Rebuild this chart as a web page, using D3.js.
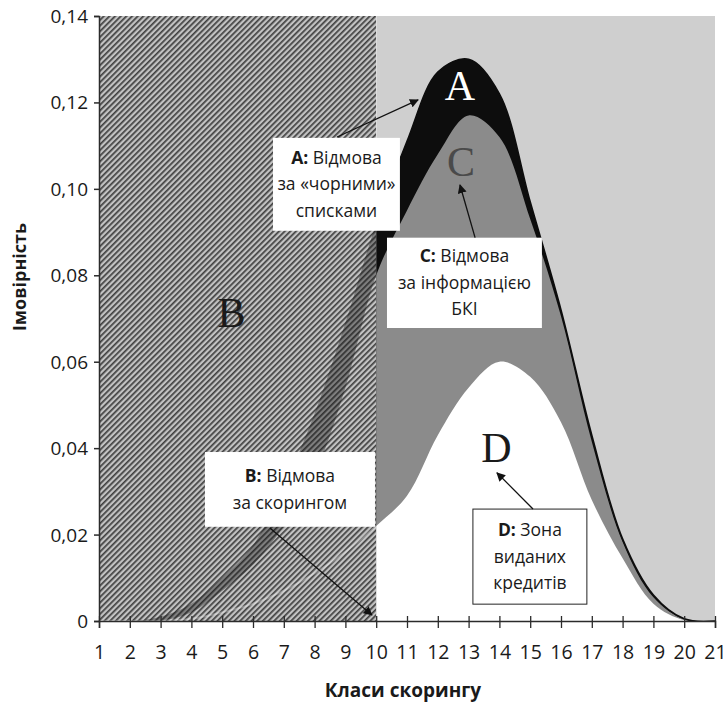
<!DOCTYPE html>
<html>
<head>
<meta charset="utf-8">
<script src="https://cdn.jsdelivr.net/npm/d3@7"></script>
<style>
  html, body { margin: 0; padding: 0; background: #fff; }
  svg { display: block; }
  text { font-family: "Open Sans", "Noto Sans", sans-serif; }
</style>
</head>
<body>
<svg id="chart" width="726" height="708"></svg>
<script>
// ---------- data ----------
const classes = [1, 2, 3, 4, 5, 6, 7, 8, 9, 10, 11, 12, 13, 14, 15, 16, 17, 18, 19, 20, 21];
// total density (top of zone A)
const totalCurve = [0, 0, 0.001, 0.004, 0.010, 0.0175, 0.031, 0.048, 0.069, 0.092, 0.111, 0.127, 0.130, 0.122, 0.097, 0.072, 0.043, 0.019, 0.006, 0.0005, 0];
// after blacklist rejection (top of zone C)
const blacklistCurve = [0, 0, 0, 0.002, 0.007, 0.013, 0.022, 0.034, 0.054, 0.080, 0.095, 0.108, 0.117, 0.112, 0.093, 0.0705, 0.0415, 0.0183, 0.0055, 0.0004, 0];
// issued credits (top of zone D)
const issuedCurve = [0, 0, 0, 0.0005, 0.002, 0.004, 0.007, 0.011, 0.016, 0.022, 0.029, 0.043, 0.054, 0.060, 0.0565, 0.046, 0.028, 0.0145, 0.004, 0.0002, 0];
const cutoffClass = 10;
const yTicks = [0, 0.02, 0.04, 0.06, 0.08, 0.10, 0.12, 0.14];
const yTickLabels = ["0", "0,02", "0,04", "0,06", "0,08", "0,10", "0,12", "0,14"];
const zoneLetters = ["A", "B", "C", "D"];
const zoneLetterPos = [[12.72, 0.1205], [5.3, 0.0680], [12.75, 0.1030], [13.9, 0.0368]];
const noteLines = [
  [["A:", " Відмова"], ["", "за «чорними»"], ["", "списками"]],
  [["B:", " Відмова"], ["", "за скорингом"]],
  [["C:", " Відмова"], ["", "за інформацією"], ["", "БКІ"]],
  [["D:", " Зона"], ["", "виданих"], ["", "кредитів"]]
];
// note boxes in data coords: [x0, x1, yTop, yBottom]
const noteBoxes = [[6.65, 10.77, 0.1118, 0.0903], [4.44, 9.96, 0.0391, 0.0218], [10.35, 15.38, 0.0887, 0.0678], [13.14, 16.84, 0.0259, 0.0039]];
// arrows in data coords: [x1, y1, x2, y2]
const noteArrows = [[8.73, 0.1120, 11.36, 0.1206], [6.55, 0.0215, 9.86, 0.0014], [13.21, 0.0887, 12.72, 0.1009], [15.09, 0.0259, 13.92, 0.0343]];

// ---------- setup ----------
const svg = d3.select("#chart");
const x = d3.scaleLinear().domain([1, 21]).range([99, 715]);
const y = d3.scaleLinear().domain([0, 0.14]).range([621, 16]);
const rows = classes.map((c, i) => ({ c, t: totalCurve[i], b: blacklistCurve[i], d: issuedCurve[i] }));
const curve = d3.curveCatmullRom.alpha(0.5);

const defs = svg.append("defs");
const pat = defs.append("pattern").attr("id", "hatch").attr("patternUnits", "userSpaceOnUse")
  .attr("width", 4).attr("height", 4).attr("patternTransform", "rotate(45)");
pat.append("rect").attr("width", 4).attr("height", 4).attr("fill", "#c2c2c2");
pat.append("rect").attr("width", 1.7).attr("height", 4).attr("fill", "#404040");

defs.append("clipPath").attr("id", "clipR").append("rect")
  .attr("x", x(cutoffClass)).attr("y", y(0.14)).attr("width", x(21) - x(cutoffClass)).attr("height", y(0) - y(0.14));
defs.append("clipPath").attr("id", "clipL").append("rect")
  .attr("x", x(1)).attr("y", y(0.14)).attr("width", x(cutoffClass) - x(1)).attr("height", y(0) - y(0.14));

const mk = defs.append("marker").attr("id", "arr").attr("viewBox", "0 0 10 10").attr("refX", 9).attr("refY", 5)
  .attr("markerWidth", 9).attr("markerHeight", 9).attr("markerUnits", "userSpaceOnUse").attr("orient", "auto");
mk.append("path").attr("d", "M0,0 L10,5 L0,10 Z").attr("fill", "#111");

// ---------- right zone ----------
const gR = svg.append("g").attr("clip-path", "url(#clipR)");
gR.append("rect").attr("x", x(cutoffClass)).attr("y", y(0.14)).attr("width", x(21) - x(cutoffClass))
  .attr("height", y(0) - y(0.14)).attr("fill", "#cfcfcf");
const areaT = d3.area().x(d => x(d.c)).y0(y(0)).y1(d => y(d.t)).curve(curve);
const areaB = d3.area().x(d => x(d.c)).y0(y(0)).y1(d => y(d.b)).curve(curve);
const areaD = d3.area().x(d => x(d.c)).y0(y(0)).y1(d => y(d.d)).curve(curve);
gR.append("path").datum(rows).attr("d", areaT).attr("fill", "#0d0d0d");
gR.append("path").datum(rows).attr("d", areaB).attr("fill", "#8b8b8b");
gR.append("path").datum(rows).attr("d", areaD).attr("fill", "#ffffff");
gR.append("path").datum(rows).attr("d", d3.line().x(d => x(d.c)).y(d => y(d.t)).curve(curve))
  .attr("fill", "none").attr("stroke", "#0d0d0d").attr("stroke-width", 1.6);

// ---------- left (hatched) zone ----------
const gL = svg.append("g").attr("clip-path", "url(#clipL)");
gL.append("rect").attr("x", x(1)).attr("y", y(0.14)).attr("width", x(cutoffClass) - x(1))
  .attr("height", y(0) - y(0.14)).attr("fill", "url(#hatch)");
const bandA = d3.area().x(d => x(d.c)).y0(d => y(d.b)).y1(d => y(d.t)).curve(curve);
gL.append("path").datum(rows).attr("d", bandA).attr("fill", "#1a1a1a").attr("opacity", 0.4);
gL.append("path").datum(rows).attr("d", d3.line().x(d => x(d.c)).y(d => y(d.d)).curve(curve))
  .attr("fill", "none").attr("stroke", "#ffffff").attr("stroke-width", 2).attr("opacity", 0.3);

// ---------- zone letters ----------
zoneLetters.forEach((L, i) => {
  svg.append("text").attr("x", x(zoneLetterPos[i][0])).attr("y", y(zoneLetterPos[i][1]))
    .attr("text-anchor", "middle").style("font-family", "'Liberation Serif', 'DejaVu Serif', serif")
    .style("font-size", "42px")
    .attr("fill", L === "A" ? "#ffffff" : (L === "C" ? "#4a4a4a" : "#1a1a1a"))
    .text(L);
});

// ---------- axes ----------
const axColor = "#2b2b2b";
const yAxis = svg.append("g").attr("transform", `translate(${x(1)},0)`)
  .call(d3.axisLeft(y).tickValues(yTicks).tickFormat((d, i) => yTickLabels[i]).tickSize(5).tickPadding(6));
yAxis.select(".domain").attr("stroke", axColor).attr("stroke-width", 1.5);
yAxis.selectAll(".tick line").attr("stroke", axColor).attr("stroke-width", 1.5);
yAxis.selectAll(".tick text").attr("fill", "#1a1a1a").style("font-size", "19px")
  .style("font-family", "'Open Sans', sans-serif").attr("dy", "0.34em");

const xAxis = svg.append("g").attr("transform", `translate(0,${y(0)})`)
  .call(d3.axisBottom(x).tickValues(classes).tickFormat(d => d).tickSizeOuter(0).tickSize(7).tickPadding(10));
xAxis.select(".domain").attr("stroke", axColor).attr("stroke-width", 1.5);
xAxis.selectAll(".tick line").attr("stroke", axColor).attr("stroke-width", 1.3).attr("y1", -5).attr("y2", 7);
xAxis.selectAll(".tick text").attr("fill", "#1a1a1a").style("font-size", "19.5px")
  .style("font-family", "'Open Sans', sans-serif").attr("y", 38).attr("dy", 0);

svg.append("text").attr("transform", `translate(26,277) rotate(-90)`)
  .attr("text-anchor", "middle").style("font-size", "18px").style("font-weight", "700").attr("fill", "#1a1a1a")
  .text("Імовірність");
svg.append("text").attr("x", 403).attr("y", 697).attr("text-anchor", "middle")
  .style("font-size", "19px").style("font-weight", "700").attr("fill", "#1a1a1a").text("Класи скорингу");

// ---------- notes ----------
noteBoxes.forEach((b, i) => {
  const x0 = x(b[0]), x1 = x(b[1]), y0 = y(b[2]), y1 = y(b[3]);
  svg.append("rect").attr("x", x0).attr("y", y0).attr("width", x1 - x0).attr("height", y1 - y0)
    .attr("fill", "#ffffff").attr("stroke", i === 3 ? "#222" : "none").attr("stroke-width", 1);
  const lines = noteLines[i];
  const lh = 26.5;
  const startY = (y0 + y1) / 2 - (lines.length - 1) * lh / 2 + 6;
  lines.forEach((ln, j) => {
    const t = svg.append("text").attr("x", (x0 + x1) / 2).attr("y", startY + j * lh)
      .attr("text-anchor", "middle").style("font-size", "17.5px").attr("fill", "#1a1a1a");
    if (ln[0]) t.append("tspan").style("font-weight", "700").text(ln[0]);
    t.append("tspan").text(ln[1]);
  });
});
noteArrows.forEach(a => {
  svg.append("line").attr("x1", x(a[0])).attr("y1", y(a[1])).attr("x2", x(a[2])).attr("y2", y(a[3]))
    .attr("stroke", "#111").attr("stroke-width", 1.3).attr("marker-end", "url(#arr)");
});
</script>
</body>
</html>
